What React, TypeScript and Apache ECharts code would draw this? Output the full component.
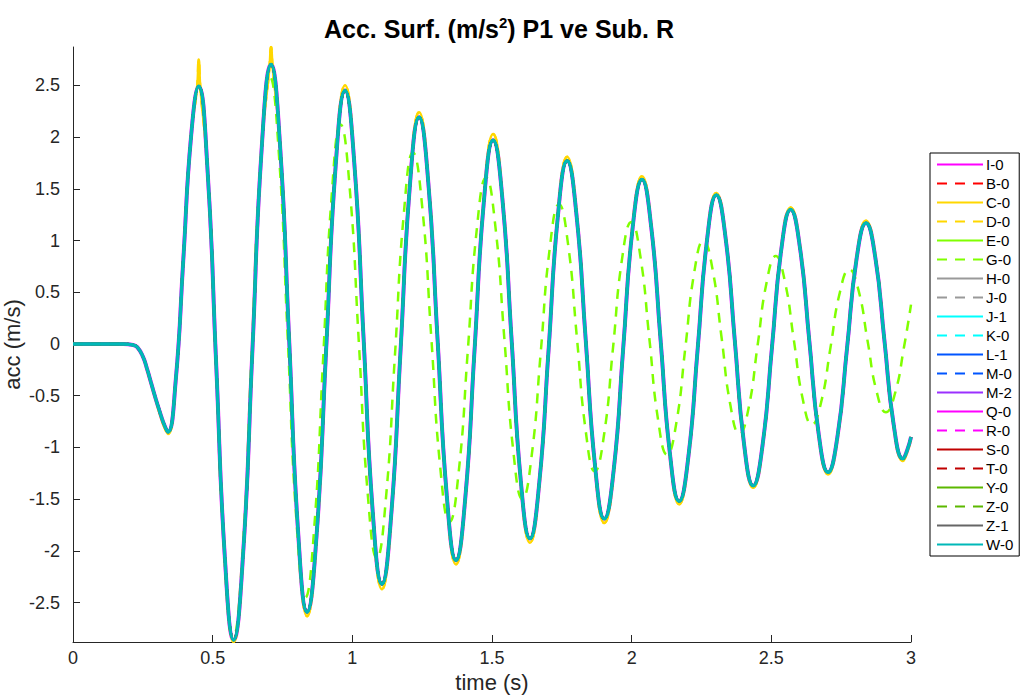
import React, { useEffect, useRef } from "react";
import * as echarts from "echarts";

// time (s) and acceleration (m/s^2) — main group of runs
const mainT = [0, 0.1, 0.18, 0.215, 0.23, 0.25, 0.265, 0.28, 0.295, 0.31, 0.325, 0.34,
  0.3675, 0.395, 0.4225, 0.45, 0.481, 0.5125, 0.544, 0.575,
  0.6085, 0.642, 0.6755, 0.709, 0.741, 0.7735, 0.806, 0.838,
  0.872, 0.906, 0.94, 0.974, 1.007, 1.04, 1.073, 1.106,
  1.139, 1.1725, 1.206, 1.239, 1.272, 1.305, 1.338, 1.371,
  1.404, 1.4375, 1.471, 1.504, 1.537, 1.57, 1.603, 1.636,
  1.669, 1.7025, 1.736, 1.769, 1.802, 1.8355, 1.869, 1.902,
  1.936, 1.9695, 2.003, 2.037, 2.07, 2.1035, 2.137, 2.17,
  2.203, 2.2365, 2.27, 2.303, 2.336, 2.369, 2.402, 2.435,
  2.4685, 2.502, 2.5355, 2.569, 2.6025, 2.636, 2.6695, 2.703,
  2.737, 2.771, 2.805, 2.839, 2.872, 2.905, 2.938, 2.971, 2.986, 3.0];
const mainV = [0, 0, 0, -0.01, -0.03, -0.12, -0.24, -0.38, -0.52, -0.65, -0.77, -0.85,
  -0.36, 0.82, 2.0, 2.49, 1.71, -0.19, -2.08, -2.86,
  -2.05, -0.08, 1.89, 2.7, 1.93, 0.06, -1.82, -2.59,
  -1.85, -0.07, 1.71, 2.45, 1.75, 0.07, -1.62, -2.32,
  -1.66, -0.07, 1.53, 2.19, 1.56, 0.05, -1.46, -2.09,
  -1.5, -0.06, 1.38, 1.97, 1.41, 0.05, -1.32, -1.88,
  -1.35, -0.06, 1.24, 1.77, 1.26, 0.04, -1.18, -1.69,
  -1.21, -0.05, 1.11, 1.59, 1.13, 0.04, -1.06, -1.52,
  -1.09, -0.04, 1.01, 1.44, 1.03, 0.04, -0.96, -1.37,
  -0.98, -0.04, 0.91, 1.3, 0.93, 0.03, -0.87, -1.24,
  -0.89, -0.04, 0.82, 1.17, 0.84, 0.03, -0.78, -1.11, -1.03, -0.9];

// C-0 / D-0 (yellow) with spiky peaks
const yellowT = [0, 0.1, 0.18, 0.215, 0.23, 0.25, 0.265, 0.28, 0.295, 0.31, 0.325, 0.34,
  0.3675, 0.395, 0.4225, 0.444, 0.45, 0.456, 0.481, 0.5125, 0.544, 0.575,
  0.6085, 0.642, 0.6755, 0.703, 0.709, 0.715, 0.741, 0.7735, 0.806, 0.838,
  0.872, 0.906, 0.94, 0.974, 1.007, 1.04, 1.073, 1.106,
  1.139, 1.1725, 1.206, 1.239, 1.272, 1.305, 1.338, 1.371,
  1.404, 1.4375, 1.471, 1.504, 1.537, 1.57, 1.603, 1.636,
  1.669, 1.7025, 1.736, 1.769, 1.802, 1.8355, 1.869, 1.902,
  1.936, 1.9695, 2.003, 2.037, 2.07, 2.1035, 2.137, 2.17,
  2.203, 2.2365, 2.27, 2.303, 2.336, 2.369, 2.402, 2.435,
  2.4685, 2.502, 2.5355, 2.569, 2.6025, 2.636, 2.6695, 2.703,
  2.737, 2.771, 2.805, 2.839, 2.872, 2.905, 2.938, 2.971, 2.986, 3.0];
const yellowV = [0, 0, 0, -0.01, -0.03, -0.12, -0.25, -0.39, -0.53, -0.67, -0.79, -0.87,
  -0.37, 0.82, 2.02, 2.47, 2.75, 2.47, 1.72, -0.19, -2.1, -2.88,
  -2.07, -0.08, 1.91, 2.66, 2.87, 2.66, 1.95, 0.06, -1.85, -2.63,
  -1.88, -0.07, 1.74, 2.5, 1.78, 0.07, -1.65, -2.37,
  -1.69, -0.07, 1.56, 2.24, 1.59, 0.05, -1.49, -2.13,
  -1.53, -0.06, 1.41, 2.03, 1.44, 0.05, -1.35, -1.92,
  -1.38, -0.06, 1.27, 1.81, 1.29, 0.04, -1.21, -1.73,
  -1.24, -0.05, 1.14, 1.62, 1.15, 0.04, -1.08, -1.55,
  -1.11, -0.04, 1.03, 1.46, 1.05, 0.04, -0.98, -1.39,
  -1.0, -0.04, 0.93, 1.32, 0.95, 0.03, -0.89, -1.26,
  -0.91, -0.04, 0.84, 1.19, 0.86, 0.03, -0.8, -1.13, -1.05, -0.91];

// G-0 (green dashed), drifting ahead of the others
const gT = [0, 0.1, 0.18, 0.215, 0.23, 0.25, 0.265, 0.28, 0.295, 0.31, 0.325, 0.34,
  0.3675, 0.395, 0.4225, 0.45,
  0.481, 0.5115, 0.542, 0.573, 0.606, 0.639, 0.672, 0.705,
  0.737, 0.7685, 0.8, 0.832, 0.8635, 0.895, 0.9265, 0.958,
  0.9905, 1.023, 1.0555, 1.088, 1.12, 1.1525, 1.185, 1.217,
  1.25, 1.2825, 1.315, 1.348, 1.381, 1.4135, 1.446, 1.479,
  1.5115, 1.544, 1.5765, 1.609, 1.642, 1.6745, 1.707, 1.74,
  1.772, 1.804, 1.836, 1.868, 1.901, 1.9335, 1.966, 1.999,
  2.031, 2.063, 2.095, 2.127, 2.1595, 2.192, 2.2245, 2.257,
  2.289, 2.3215, 2.354, 2.386, 2.4185, 2.451, 2.4835, 2.516,
  2.548, 2.5805, 2.613, 2.645, 2.6785, 2.712, 2.7455, 2.779,
  2.812, 2.8445, 2.877, 2.91, 2.9425, 2.975, 3.0];
const gV = [0, 0, 0, -0.01, -0.03, -0.12, -0.24, -0.38, -0.52, -0.65, -0.77, -0.85,
  -0.36, 0.82, 1.99, 2.47,
  1.69, -0.19, -2.06, -2.84, -2.05, -0.13, 1.79, 2.58,
  1.84, 0.07, -1.71, -2.45, -1.78, -0.17, 1.45, 2.12,
  1.51, 0.03, -1.46, -2.07, -1.5, -0.11, 1.28, 1.85,
  1.33, 0.07, -1.2, -1.72, -1.23, -0.06, 1.12, 1.61,
  1.15, 0.06, -1.04, -1.5, -1.08, -0.08, 0.93, 1.35,
  0.97, 0.06, -0.85, -1.23, -0.88, -0.03, 0.83, 1.18,
  0.85, 0.06, -0.74, -1.07, -0.77, -0.04, 0.7, 1.0,
  0.73, 0.07, -0.6, -0.87, -0.62, -0.01, 0.6, 0.85,
  0.61, 0.04, -0.54, -0.78, -0.56, -0.03, 0.5, 0.72,
  0.52, 0.03, -0.46, -0.66, -0.48, -0.03, 0.38];

const seriesNames = ["I-0", "B-0", "C-0", "D-0", "E-0", "G-0", "H-0", "J-0", "J-1", "K-0", "L-1",
  "M-0", "M-2", "Q-0", "R-0", "S-0", "T-0", "Y-0", "Z-0", "Z-1", "W-0"];
const seriesColors = ["#ff00ff", "#ff0000", "#ffd700", "#ffd700", "#80ff00", "#80ff00", "#999999",
  "#999999", "#00ffff", "#00ffff", "#0055ff", "#0055ff", "#9b30ff", "#ff00ff", "#ff00ff",
  "#c00000", "#c00000", "#5cb800", "#5cb800", "#666666", "#00b8b8"];
const dashedNames = ["B-0", "D-0", "G-0", "J-0", "K-0", "M-0", "R-0", "T-0", "Z-0"];
const xTicks = [0, 0.5, 1, 1.5, 2, 2.5, 3];
const yTicks = [-2.5, -2, -1.5, -1, -0.5, 0, 0.5, 1, 1.5, 2, 2.5];

const FONT = "Liberation Sans, Arial, Helvetica, sans-serif";

function pairs(t: number[], v: number[]) {
  return t.map((x, i) => [x, v[i]]);
}

export default function App() {
  const ref = useRef<HTMLDivElement>(null);
  useEffect(() => {
    if (!ref.current) return;
    const chart = echarts.init(ref.current, null, { renderer: "svg" });
    const mainData = pairs(mainT, mainV);
    const yellowData = pairs(yellowT, yellowV);
    const gData = pairs(gT, gV);
    const series = seriesNames.map((name, i) => {
      let data = mainData;
      if (name === "C-0" || name === "D-0") data = yellowData;
      if (name === "G-0") data = gData;
      const dashed = dashedNames.indexOf(name) >= 0;
      let width = 2.5;
      if (name === "I-0") width = 4;
      if (name === "W-0") width = 3.5;
      return {
        name,
        type: "line",
        data,
        smooth: 0.5,
        symbol: "none",
        showSymbol: false,
        clip: true,
        lineStyle: { color: seriesColors[i], width, type: dashed ? [10, 8] : "solid" },
        itemStyle: { color: seriesColors[i] },
        emphasis: { disabled: true },
      };
    });
    chart.setOption({
      animation: false,
      backgroundColor: "#ffffff",
      title: {
        text: "Acc. Surf. (m/s{sup|2}) P1 ve Sub. R",
        left: 494,
        textAlign: "center",
        top: 10,
        textStyle: {
          fontFamily: FONT,
          fontSize: 25,
          fontWeight: "bold",
          color: "#000000",
          rich: {
            sup: { fontFamily: FONT, fontSize: 15, fontWeight: "bold", color: "#000000", verticalAlign: "bottom", padding: [0, 0, 12, 0] },
          },
        },
      },
      grid: { left: 73, right: 118, top: 47, bottom: 55, containLabel: false, outerBoundsMode: "none" },
      legend: {
        orient: "vertical",
        left: 930,
        top: 153,
        itemWidth: 46,
        itemHeight: 14,
        itemGap: 4,
        padding: [4, 6, 4, 6],
        borderColor: "#000000",
        borderWidth: 1,
        backgroundColor: "#ffffff",
        selectedMode: false,
        data: seriesNames,
        itemStyle: { opacity: 0, color: "rgba(0,0,0,0)", borderWidth: 0 },
        textStyle: { fontFamily: FONT, fontSize: 15, color: "#000000", padding: [0, 0, 0, -2] },
      },
      xAxis: {
        type: "value",
        min: 0,
        max: 3,
        interval: 0.5,
        name: "time (s)",
        nameLocation: "middle",
        nameGap: 29,
        nameMoveOverlap: false,
        nameTextStyle: { fontFamily: FONT, fontSize: 22, color: "#262626" },
        axisLine: { show: true, onZero: false, lineStyle: { color: "#262626", width: 1 } },
        axisTick: { show: true, inside: true, length: 7, customValues: xTicks, lineStyle: { color: "#262626" } },
        axisLabel: { fontFamily: FONT, fontSize: 18, color: "#262626", margin: 7, customValues: xTicks },
        splitLine: { show: false },
      },
      yAxis: {
        type: "value",
        min: -2.88,
        max: 2.87,
        splitNumber: 11,
        name: "acc (m/s)",
        nameLocation: "middle",
        nameGap: 50,
        nameMoveOverlap: false,
        nameTextStyle: { fontFamily: FONT, fontSize: 22, color: "#262626" },
        axisLine: { show: true, onZero: false, lineStyle: { color: "#262626", width: 1 } },
        axisTick: { show: true, inside: true, length: 7, customValues: yTicks, lineStyle: { color: "#262626" } },
        axisLabel: { fontFamily: FONT, fontSize: 18, color: "#262626", margin: 13, customValues: yTicks },
        splitLine: { show: false },
      },
      series,
    });
    return () => chart.dispose();
  }, []);
  return (
    <div
      ref={ref}
      style={{ position: "fixed", left: 0, top: 0, width: 1029, height: 697, background: "#fff" }}
    />
  );
}
